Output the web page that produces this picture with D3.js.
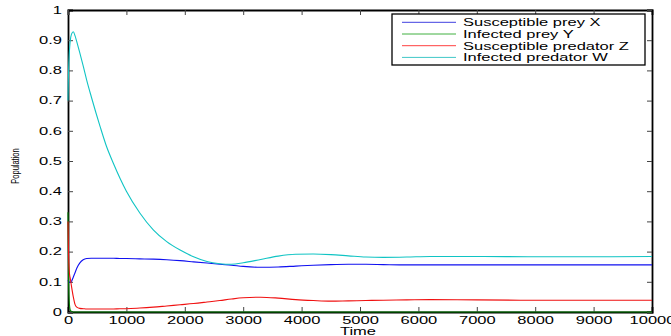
<!DOCTYPE html>
<html>
<head>
<meta charset="utf-8">
<script src="https://d3js.org/d3.v7.min.js"></script>
<style>
  body { margin: 0; background: #fff; }
  text { font-family: "Liberation Sans", Arial, sans-serif; fill: #000; }
  .axis path { stroke: #000; stroke-width: 1.8; }
  .axis line { stroke: #444; }
</style>
</head>
<body>
<div id="chart"></div>
<script>
// ---- data ----
var timeValues = [0, 5, 10, 20, 30, 40, 60, 90, 120, 150, 200, 260, 320, 400, 550, 660, 780, 890, 1000,
  1230, 1460, 1690, 1920, 2150, 2380, 2600, 2800, 3000, 3300, 3600, 3900, 4200, 4500, 4800, 5100,
  5400, 5800, 6200, 7000, 8000, 9000, 10000];

// Susceptible prey X
var preyX = [0.105, 0.103, 0.101, 0.099, 0.098, 0.098, 0.102, 0.115, 0.130, 0.145, 0.162, 0.173, 0.177, 0.178,
  0.178, 0.178, 0.178, 0.177, 0.177, 0.176, 0.175, 0.173, 0.170, 0.166, 0.162, 0.158, 0.155, 0.151,
  0.148, 0.149, 0.152, 0.155, 0.157, 0.158, 0.158, 0.157, 0.156, 0.156, 0.156, 0.156, 0.156, 0.156];

// Infected prey Y
var preyY = [0.33, 0.20, 0.11, 0.04, 0.015, 0.006, 0.002, 0, 0, 0, 0, 0, 0, 0, 0, 0, 0, 0, 0,
  0, 0, 0, 0, 0, 0, 0, 0, 0, 0, 0, 0, 0, 0, 0, 0, 0, 0, 0, 0, 0, 0, 0];

// Susceptible predator Z
var predZ = [0.30, 0.24, 0.19, 0.14, 0.12, 0.11, 0.085, 0.051, 0.025, 0.016, 0.012, 0.011, 0.010, 0.010,
  0.010, 0.010, 0.010, 0.011, 0.011, 0.013, 0.016, 0.020, 0.024, 0.028, 0.033, 0.038, 0.043, 0.047,
  0.049, 0.046, 0.041, 0.038, 0.036, 0.037, 0.038, 0.039, 0.040, 0.041, 0.040, 0.039, 0.039, 0.039];

// Infected predator W
var predW = [0.70, 0.76, 0.80, 0.85, 0.88, 0.90, 0.92, 0.928, 0.915, 0.895, 0.860, 0.815, 0.768, 0.712,
  0.614, 0.548, 0.491, 0.443, 0.400, 0.328, 0.272, 0.233, 0.205, 0.183, 0.167, 0.160, 0.158, 0.163,
  0.174, 0.185, 0.191, 0.192, 0.190, 0.186, 0.182, 0.181, 0.182, 0.184, 0.184, 0.183, 0.183, 0.184];

var seriesNames = ["Susceptible prey X", "Infected prey Y", "Susceptible predator Z", "Infected predator W"];
var seriesColors = ["#1010f0", "#008000", "#f01010", "#10c4c4"];
var legendColors = ["#4040e0", "#40b040", "#ff4040", "#40c8c8"];

var xTicks = [0, 1000, 2000, 3000, 4000, 5000, 6000, 7000, 8000, 9000, 10000];
var yTicks = [0, 0.1, 0.2, 0.3, 0.4, 0.5, 0.6, 0.7, 0.8, 0.9, 1];
var yTickLabels = ["0", "0.1", "0.2", "0.3", "0.4", "0.5", "0.6", "0.7", "0.8", "0.9", "1"];

// ---- layout ----
var svgWidth = 671;
var svgHeight = 336;
var margin = { top: 10, right: 19, bottom: 24, left: 68 };
var chartWidth = svgWidth - margin.left - margin.right;
var chartHeight = svgHeight - margin.top - margin.bottom;
var stretch = 1.65; // the tick text in the picture is wider than it is tall

var svg = d3.select("#chart")
  .append("svg")
  .attr("width", svgWidth)
  .attr("height", svgHeight);

var chartGroup = svg.append("g")
  .attr("transform", `translate(${margin.left}, ${margin.top})`);

var xScale = d3.scaleLinear().domain([0, 10000]).range([0, chartWidth]);
var yScale = d3.scaleLinear().domain([0, 1]).range([chartHeight, 0]);

// widen axis labels horizontally, keeping their anchor point
function widen(sel) {
  sel.each(function () {
    var t = d3.select(this);
    var x = +t.attr("x") || 0;
    t.attr("x", x / stretch).attr("transform", `scale(${stretch},1)`);
  });
}

// bottom axis with labels
var bottomAxis = d3.axisBottom(xScale).tickValues(xTicks).tickSize(-5).tickPadding(5)
  .tickFormat(d3.format("d"));
chartGroup.append("g")
  .attr("class", "axis")
  .attr("transform", `translate(0, ${chartHeight})`)
  .call(bottomAxis)
  .call(g => g.selectAll("text").attr("font-size", 10).call(widen));

// left axis with labels
var leftAxis = d3.axisLeft(yScale).tickValues(yTicks).tickSize(-5).tickPadding(6)
  .tickFormat((d, i) => yTickLabels[i]);
chartGroup.append("g")
  .attr("class", "axis")
  .call(leftAxis)
  .call(g => g.selectAll("text").attr("font-size", 10).call(widen));

// top and right frame with inward ticks
chartGroup.append("g")
  .attr("class", "axis")
  .call(d3.axisTop(xScale).tickValues(xTicks).tickSize(-5).tickFormat(""));
chartGroup.append("g")
  .attr("class", "axis")
  .attr("transform", `translate(${chartWidth}, 0)`)
  .call(d3.axisRight(yScale).tickValues(yTicks).tickSize(-5).tickFormat(""));

// lines
var allSeries = [preyX, preyY, predZ, predW];
var drawLine = d3.line()
  .x((d, i) => xScale(timeValues[i]))
  .y(d => yScale(d))
  .curve(d3.curveMonotoneX);

chartGroup.selectAll(".series")
  .data(allSeries)
  .enter()
  .append("path")
  .attr("class", "series")
  .attr("fill", "none")
  .attr("stroke", (d, i) => seriesColors[i])
  .attr("stroke-width", 1.1)
  .attr("d", drawLine);

// axis titles
svg.append("text")
  .attr("transform", `translate(${margin.left + chartWidth / 2 - 2}, 335) scale(${stretch},1)`)
  .attr("text-anchor", "middle")
  .attr("font-size", 10)
  .text("Time");

svg.append("text")
  .attr("transform", "translate(15, 166) rotate(-90) scale(1,1.5)")
  .attr("text-anchor", "middle")
  .attr("dy", "0.35em")
  .attr("font-size", 7.5)
  .text("Population");

// legend
var legend = svg.append("g").attr("transform", "translate(392, 14)");
legend.append("rect")
  .attr("width", 253)
  .attr("height", 51)
  .attr("fill", "#fff")
  .attr("stroke", "#000")
  .attr("stroke-width", 1.3);

var rows = legend.selectAll(".row")
  .data(seriesNames)
  .enter()
  .append("g")
  .attr("class", "row")
  .attr("transform", (d, i) => `translate(0, ${8.3 + i * 11.7})`);

rows.append("line")
  .attr("x1", 10).attr("x2", 64)
  .attr("stroke", (d, i) => legendColors[i])
  .attr("stroke-width", 1);

rows.append("text")
  .attr("transform", "translate(71, 0) scale(1.5,1)")
  .attr("dy", "0.36em")
  .attr("font-size", 11)
  .text(d => d);
</script>
</body>
</html>
